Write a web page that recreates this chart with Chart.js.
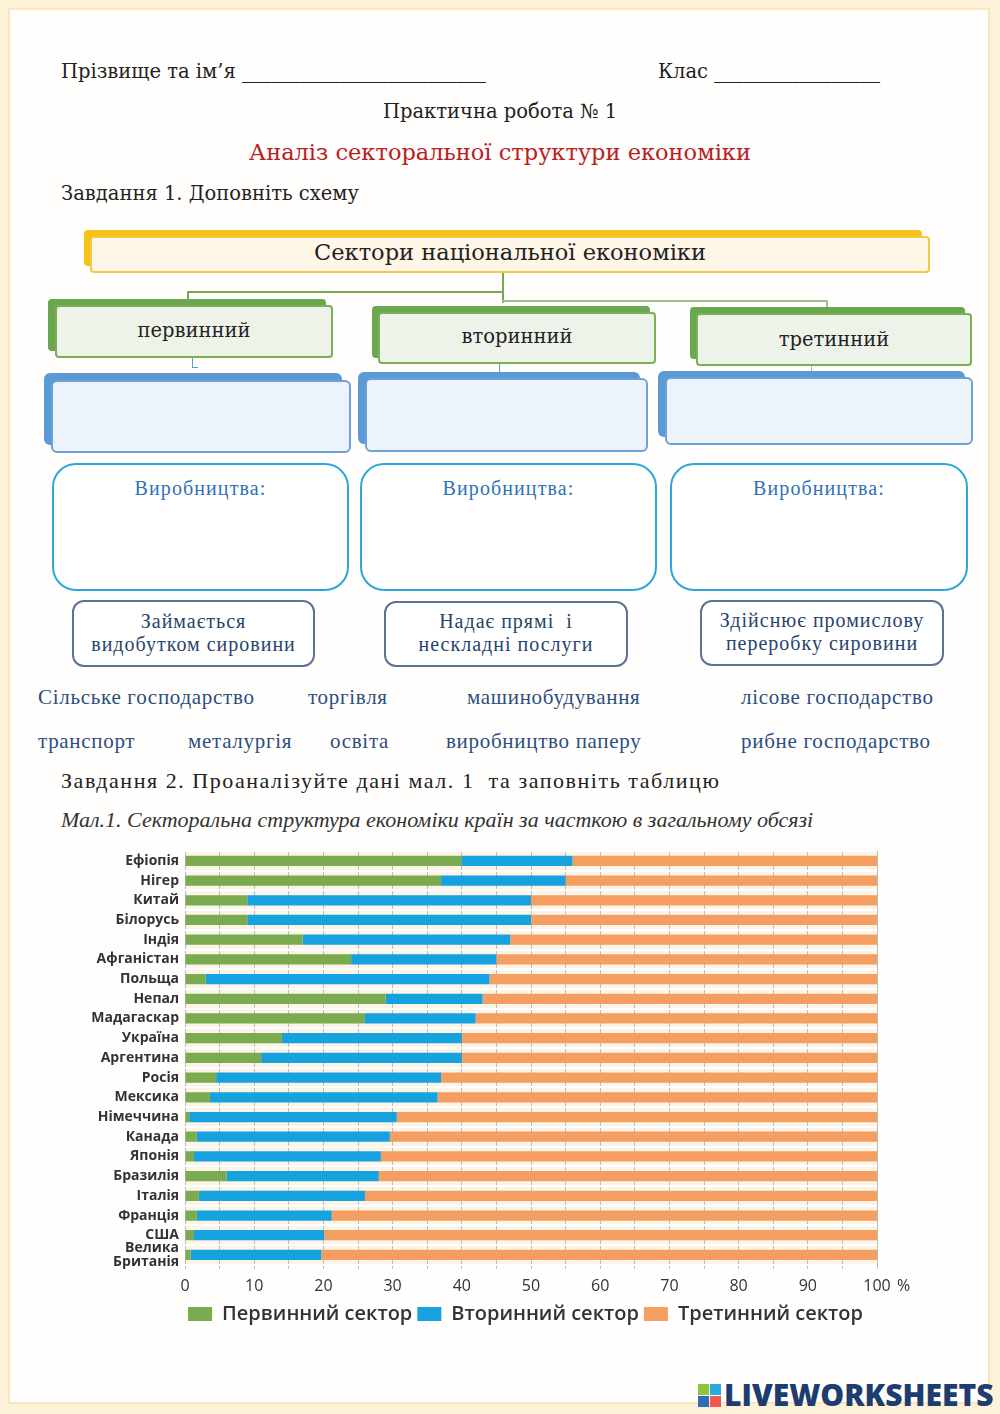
<!DOCTYPE html>
<html lang="uk">
<head>
<meta charset="utf-8">
<script src="https://cdn.jsdelivr.net/npm/chart.js@4.4.0/dist/chart.umd.min.js"></script>
<style>
  html, body { margin: 0; padding: 0; }
  body { width: 1000px; height: 1414px; position: relative; background: #fdf1d8; overflow: hidden;
         font-family: "DejaVu Serif", serif; color: #222; }
  .page { position: absolute; left: 8px; top: 8px; width: 982px; height: 1396px; background: #fffefc;
          border: 2px solid #fbe7bf; box-sizing: border-box; }
  .t { position: absolute; white-space: nowrap; }
  .c { text-align: center; }
  .box { position: absolute; box-sizing: border-box; }
  .ln { position: absolute; background: #79a94c; }
  .ls { font-family: "Liberation Serif", serif; }
  .bank { position: absolute; white-space: nowrap; font-family: "Liberation Serif", serif; font-size: 21px;
          color: #2b4e80; letter-spacing: 0.7px; }
  #chartWrap { position: absolute; left: 92px; top: 831px; width: 858px; height: 503px; }
</style>
</head>
<body>
<div class="page"></div>

<div class="t" style="left:61px; top:60px; font-size:19.5px;">Прізвище та ім’я _________________________</div>
<div class="t" style="left:658px; top:60px; font-size:19.5px;">Клас _________________</div>
<div class="t c" style="left:0; width:1000px; top:100px; font-size:19.5px;">Практична робота № 1</div>
<div class="t c" style="left:0; width:1000px; top:139px; font-size:22.5px; color:#b8201f;">Аналіз секторальної структури економіки</div>
<div class="t" style="left:61px; top:182px; font-size:19.5px;">Завдання 1. Доповніть схему</div>

<!-- схема -->
<div class="box" style="left:84px; top:230px; width:838px; height:36px; background:#f6c21a; border-radius:4px;"></div>
<div class="box" style="left:90px; top:236px; width:840px; height:37px; background:#fef6e6; border:2px solid #f3c94a; border-radius:4px;"></div>
<div class="t c" style="left:90px; width:840px; top:239px; font-size:22.5px;">Сектори національної економіки</div>

<div class="ln" style="left:502px; top:273px; width:2px; height:30px;"></div>
<div class="ln" style="left:187px; top:291px; width:317px; height:2px;"></div>
<div class="ln" style="left:187px; top:291px; width:2px; height:10px;"></div>
<div class="ln" style="left:502px; top:300px; width:326px; height:2px; background:#9fbf86;"></div>
<div class="ln" style="left:826px; top:300px; width:2px; height:8px; background:#9fbf86;"></div>

<div class="box" style="left:48px; top:299px; width:278px; height:52px; background:#6aa84f; border-radius:4px;"></div>
<div class="box" style="left:55px; top:305px; width:278px; height:53px; background:#eef3ea; border:2px solid #7cae55; border-radius:4px;"></div>
<div class="t c" style="left:55px; width:278px; top:319px; font-size:19.5px;">первинний</div>

<div class="box" style="left:372px; top:306px; width:278px; height:52px; background:#6aa84f; border-radius:4px;"></div>
<div class="box" style="left:378px; top:312px; width:278px; height:52px; background:#eef3ea; border:2px solid #7cae55; border-radius:4px;"></div>
<div class="t c" style="left:378px; width:278px; top:325px; font-size:19.5px;">вторинний</div>

<div class="box" style="left:690px; top:307px; width:275px; height:52px; background:#6aa84f; border-radius:4px;"></div>
<div class="box" style="left:696px; top:313px; width:276px; height:53px; background:#eef3ea; border:2px solid #7cae55; border-radius:4px;"></div>
<div class="t c" style="left:696px; width:276px; top:328px; font-size:19.5px;">третинний</div>

<div class="ln" style="left:192px; top:358px; width:1px; height:10px; background:#5b9bd5;"></div>
<div class="ln" style="left:192px; top:367px; width:6px; height:1px; background:#5b9bd5;"></div>
<div class="ln" style="left:499px; top:364px; width:1px; height:8px; background:#5b9bd5;"></div>
<div class="ln" style="left:811px; top:366px; width:1px; height:5px; background:#9bb9d9;"></div>

<div class="box" style="left:44px; top:373px; width:298px; height:72px; background:#5b9bd5; border-radius:6px;"></div>
<div class="box" style="left:51px; top:380px; width:300px; height:73px; background:#edf3fb; border:2px solid #6ea2d6; border-radius:6px;"></div>
<div class="box" style="left:358px; top:372px; width:282px; height:72px; background:#5b9bd5; border-radius:6px;"></div>
<div class="box" style="left:365px; top:378px; width:283px; height:74px; background:#edf3fb; border:2px solid #6ea2d6; border-radius:6px;"></div>
<div class="box" style="left:658px; top:371px; width:307px; height:66px; background:#5b9bd5; border-radius:6px;"></div>
<div class="box" style="left:665px; top:377px; width:308px; height:68px; background:#edf3fb; border:2px solid #6ea2d6; border-radius:6px;"></div>

<div class="box" style="left:52px; top:463px; width:297px; height:128px; border:2px solid #2ba7da; border-radius:24px; background:#fff;"></div>
<div class="box" style="left:360px; top:463px; width:297px; height:128px; border:2px solid #2ba7da; border-radius:24px; background:#fff;"></div>
<div class="box" style="left:670px; top:463px; width:298px; height:128px; border:2px solid #2ba7da; border-radius:24px; background:#fff;"></div>
<div class="t c ls" style="left:52px; width:297px; top:477px; font-size:20px; letter-spacing:1.1px; color:#2f71b4;">Виробництва:</div>
<div class="t c ls" style="left:360px; width:297px; top:477px; font-size:20px; letter-spacing:1.1px; color:#2f71b4;">Виробництва:</div>
<div class="t c ls" style="left:670px; width:298px; top:477px; font-size:20px; letter-spacing:1.1px; color:#2f71b4;">Виробництва:</div>

<div class="box" style="left:72px; top:600px; width:243px; height:67px; border:2px solid #5d7393; border-radius:12px; background:#fff;"></div>
<div class="box" style="left:384px; top:601px; width:244px; height:66px; border:2px solid #5d7393; border-radius:12px; background:#fff;"></div>
<div class="box" style="left:700px; top:600px; width:244px; height:66px; border:2px solid #5d7393; border-radius:12px; background:#fff;"></div>
<div class="t c ls" style="left:72px; width:243px; top:610px; font-size:20px; line-height:23px; letter-spacing:1px; color:#26446d;">Займається<br>видобутком сировини</div>
<div class="t c ls" style="left:384px; width:244px; top:610px; font-size:20px; line-height:23px; letter-spacing:1px; color:#26446d;">Надає прямі &nbsp;і<br>нескладні послуги</div>
<div class="t c ls" style="left:700px; width:244px; top:609px; font-size:20px; line-height:23px; letter-spacing:1px; color:#26446d;">Здійснює промислову<br>переробку сировини</div>

<div class="bank" style="left:38px; top:685px;">Сільське господарство</div>
<div class="bank" style="left:308px; top:685px;">торгівля</div>
<div class="bank" style="left:467px; top:685px;">машинобудування</div>
<div class="bank" style="left:741px; top:685px;">лісове господарство</div>
<div class="bank" style="left:38px; top:729px;">транспорт</div>
<div class="bank" style="left:188px; top:729px;">металургія</div>
<div class="bank" style="left:330px; top:729px;">освіта</div>
<div class="bank" style="left:446px; top:729px;">виробництво паперу</div>
<div class="bank" style="left:741px; top:729px;">рибне господарство</div>

<div class="t ls" style="left:61px; top:768px; font-size:22px; letter-spacing:1.55px;">Завдання 2. Проаналізуйте дані мал. 1 &nbsp;та заповніть таблицю</div>
<div class="t ls" style="left:61px; top:807px; font-size:22px; font-style:italic; color:#333;">Мал.1. Секторальна структура економіки країн за часткою в загальному обсязі</div>

<div id="chartWrap"><canvas id="myChart"></canvas></div>

<div class="t" style="left:698px; top:1374px; font-family:'Open Sans',sans-serif; font-weight:800; font-size:30px; color:#1d3d6e; letter-spacing:0px;">
  <span style="display:inline-block; width:24px; height:24px; vertical-align:-2px; position:relative; margin-right:2px;">
    <span style="position:absolute; left:0; top:0; width:11px; height:11px; background:#8cc63f;"></span>
    <span style="position:absolute; left:12px; top:0; width:11px; height:11px; background:#29abe2;"></span>
    <span style="position:absolute; left:0; top:12px; width:11px; height:11px; background:#2e6db5;"></span>
    <span style="position:absolute; left:12px; top:12px; width:11px; height:11px; background:#ef5a4c;"></span>
  </span>LIVEWORKSHEETS</div>

<script>
  // дані з мал.1, % від загального обсягу
  const countries = ['Ефіопія','Нігер','Китай','Білорусь','Індія','Афганістан','Польща','Непал','Мадагаскар',
    'Україна','Аргентина','Росія','Мексика','Німеччина','Канада','Японія','Бразилія','Італія','Франція','США',
    ['Велика','Британія']]
  const pervynnyi = [40, 37, 9, 9, 17, 24, 3, 29, 26, 14, 11, 4.5, 3.6, 0.6, 1.7, 1.3, 6, 2, 1.7, 1.3, 0.8]
  const vtorynnyi = [16, 18, 41, 41, 30, 21, 41, 14, 16, 26, 29, 32.5, 32.9, 30, 27.9, 27, 22, 24, 19.5, 18.8, 18.9]
  const tretynnyi = [44, 45, 50, 50, 53, 55, 56, 57, 58, 60, 60, 63, 63.5, 69.4, 70.4, 71.7, 72, 74, 78.8, 79.9, 80.3]
  const xTicks = [0, 10, 20, 30, 40, 50, 60, 70, 80, 90, 100]

  const legendShift = 41

  const plotBg = {
    id: 'plotBg',
    afterLayout(chart) {
      // легенда трохи правіше, як на малюнку
      chart.legend.left += legendShift
      chart.legend.right += legendShift
    },
    beforeDraw(chart) {
      const a = chart.chartArea
      chart.ctx.save()
      chart.ctx.fillStyle = '#fcf4e6'
      chart.ctx.fillRect(a.left, a.top, a.right - a.left, a.bottom - a.top)
      chart.ctx.restore()
    },
    afterDraw(chart) {
      const x = chart.scales.x
      const ctx = chart.ctx
      ctx.save()
      ctx.fillStyle = '#333'
      ctx.font = '16px "Open Sans"'
      ctx.textBaseline = 'middle'
      ctx.fillText('%', x.getPixelForValue(100) + 20, x.top + 4 + 8 + 10)
      ctx.restore()
    }
  }

  const ctx = document.getElementById('myChart')
  new Chart(ctx, {
    type: 'bar',
    data: {
      labels: countries,
      datasets: [
        { label: 'Первинний сектор', data: pervynnyi, backgroundColor: '#7aab4e' },
        { label: 'Вторинний сектор', data: vtorynnyi, backgroundColor: '#16a2df' },
        { label: 'Третинний сектор', data: tretynnyi, backgroundColor: '#f49e61' }
      ]
    },
    options: {
      indexAxis: 'y',
      responsive: true,
      maintainAspectRatio: false,
      animation: false,
      devicePixelRatio: 1,
      categoryPercentage: 1,
      barPercentage: 0.52,
      layout: { padding: { top: 0, right: 73, left: 0, bottom: 0 } },
      plugins: {
        tooltip: { enabled: false },
        legend: {
          position: 'bottom',
          align: 'center',
          labels: {
            boxWidth: 24, boxHeight: 14, padding: 5, color: '#333',
            font: { family: 'Open Sans', size: 20, weight: '600' }
          }
        }
      },
      scales: {
        x: {
          stacked: true, min: 0, max: 100,
          afterFit(scale) { scale.height -= 5 },
          ticks: {
            stepSize: 5, color: '#333', padding: 8, autoSkip: false, maxRotation: 0,
            font: { family: 'Open Sans', size: 16 },
            callback: v => xTicks.includes(v) ? String(v) : ''
          },
          grid: { color: '#bdbdbd', lineWidth: 1, tickLength: 4, drawOnChartArea: true },
          border: { display: false }
        },
        y: {
          stacked: true,
          afterFit(scale) { scale.width = 93 },
          ticks: {
            color: '#333', padding: 6, autoSkip: false,
            font: { family: 'Open Sans', size: 14, weight: '700', lineHeight: 1.0 }
          },
          grid: { color: '#ffffff', lineWidth: 2, drawTicks: false, offset: true },
          border: { display: false }
        }
      }
    },
    plugins: [plotBg]
  })
</script>
</body>
</html>
